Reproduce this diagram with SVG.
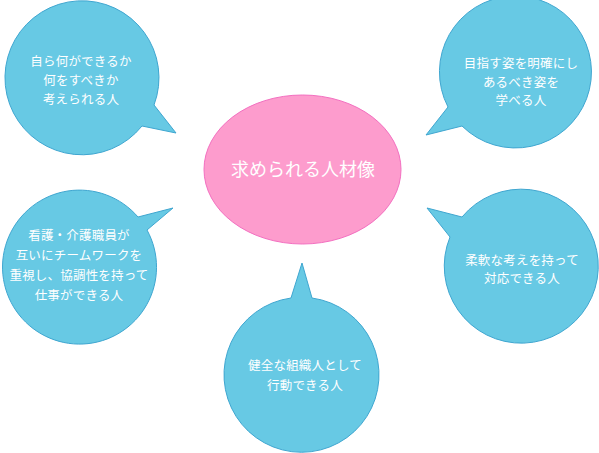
<svg xmlns="http://www.w3.org/2000/svg" width="599" height="453" viewBox="0 0 599 453">
<style>
.bubble{fill:#67c9e4;stroke:#3fa6d0;stroke-width:1}
.center{fill:#fd9ccd;stroke:#f36fc0;stroke-width:1}
text{font-family:"Noto Sans CJK JP","Noto Sans CJK SC",sans-serif;fill:#ffffff;text-anchor:middle}
.t{font-size:12.5px;letter-spacing:0.2px}
.c{font-size:18px}
</style>
<rect width="599" height="453" fill="#ffffff"/>
<g id="connectors"></g>
<g id="center-node">
<ellipse class="center" cx="302.5" cy="169.5" rx="98.5" ry="74.5"/>
<text class="c" x="303" y="176">求められる人材像</text>
</g>
<g id="bubble-top-left">
<path class="bubble" d="M154,105 A77,77 0 1 0 142,126 L176,133 Z"/>
<text class="t" x="81" y="65.5">自ら何ができるか</text>
<text class="t" x="81" y="84.5">何をすべきか</text>
<text class="t" x="81" y="103.5">考えられる人</text>
</g>
<g id="bubble-top-right">
<path class="bubble" d="M448,107 A76,76 0 1 1 462,126 L426,135 Z"/>
<text class="t" x="521" y="67.5">目指す姿を明確にし</text>
<text class="t" x="521" y="86.5">あるべき姿を</text>
<text class="t" x="521" y="104.5">学べる人</text>
</g>
<g id="bubble-mid-left">
<path class="bubble" d="M147,230 A77,77 0 1 1 138,217 L173,208 Z"/>
<text class="t" x="79" y="239.5">看護・介護職員が</text>
<text class="t" x="79" y="260">互いにチームワークを</text>
<text class="t" x="79" y="279.5">重視し、協調性を持って</text>
<text class="t" x="79" y="299.5">仕事ができる人</text>
</g>
<g id="bubble-mid-right">
<path class="bubble" d="M462,217 A77,77 0 1 1 450,237 L427,208 Z"/>
<text class="t" x="522" y="264.5">柔軟な考えを持って</text>
<text class="t" x="522" y="283">対応できる人</text>
</g>
<g id="bubble-bottom">
<path class="bubble" d="M312,298 A77.5,77.5 0 1 1 291,298 L302,263 Z"/>
<text class="t" x="305" y="369.5">健全な組織人として</text>
<text class="t" x="305" y="389.5">行動できる人</text>
</g>
</svg>
